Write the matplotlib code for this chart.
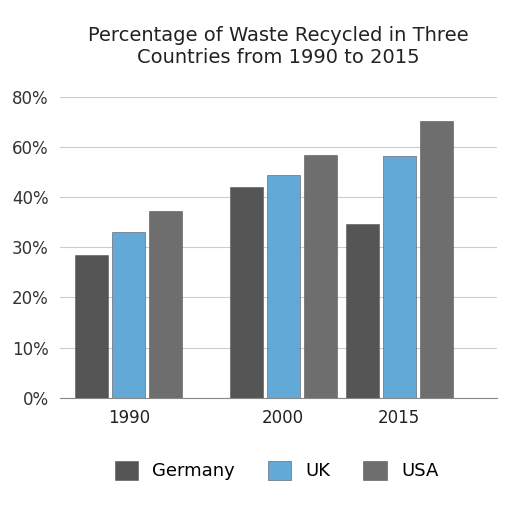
import matplotlib
matplotlib.use("Agg")
import matplotlib.pyplot as plt

years = ["1990", "2000", "2015"]
tick_labels = ["0%", "10%", "20%", "30%", "40%", "60%", "80%"]
germany = [2.84, 4.2, 3.46]
uk = [3.3, 4.44, 4.82]
usa = [3.72, 4.84, 5.52]
centers = [129, 283, 399]

fig = plt.figure(figsize=(5.12, 5.12), dpi=100)
ax = fig.add_axes([0.117, 0.223, 0.854, 0.588])
w, off = 33, 37
cols = ["#555555", "#62a9d8", "#6e6e6e"]
for i, (s, n) in enumerate(zip([germany, uk, usa], ["Germany", "UK", "USA"])):
    ax.bar([c + (i - 1) * off for c in centers], s, width=w, color=cols[i], label=n,
           edgecolor="#555555", linewidth=0.4, zorder=3)
ax.set_xlim(60, 497)
ax.set_ylim(0, 6)
ax.set_yticks(range(7))
ax.set_yticklabels(tick_labels, fontsize=12, color="#333333")
ax.set_xticks(centers)
ax.set_xticklabels(years, fontsize=12, color="#222222")
ax.grid(axis="y", color="#cccccc", linewidth=0.8, zorder=0)
for sp in ["top", "right", "left"]:
    ax.spines[sp].set_visible(False)
ax.spines["bottom"].set_color("#888888")
ax.tick_params(length=0, pad=8)
ax.set_title("Percentage of Waste Recycled in Three\nCountries from 1990 to 2015", fontsize=14,
             color="#222222", pad=24)
fig.legend(loc="lower center", ncol=3, frameon=False, fontsize=13, bbox_to_anchor=(0.54, 0.03),
           handlelength=1.3, handleheight=1.3, columnspacing=1.8)
fig.savefig("out.png")
